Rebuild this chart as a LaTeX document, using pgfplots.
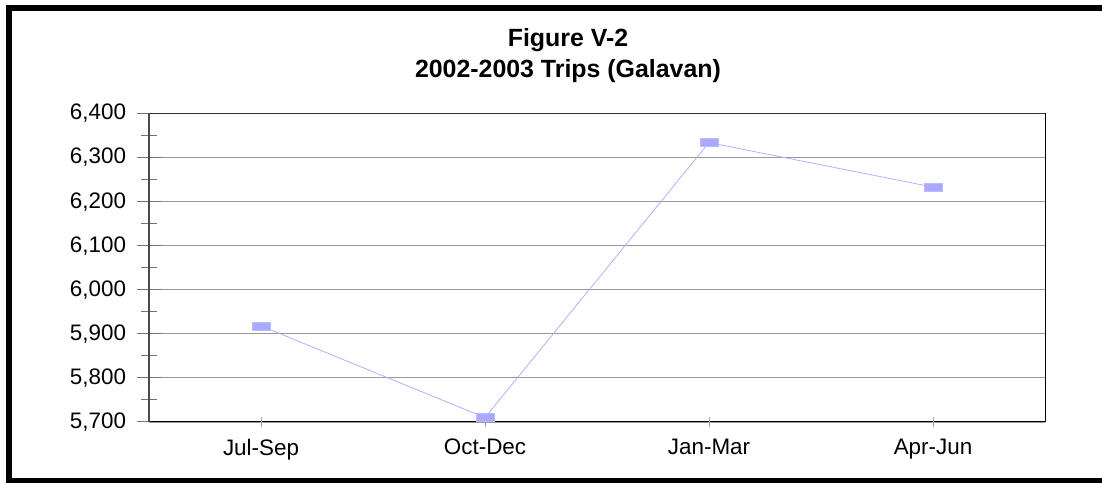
\documentclass[border=0pt]{standalone}
\usepackage{pgfplots}
\pgfplotsset{compat=1.18}
\usepackage{fontspec}
\setmainfont{Liberation Sans}
\definecolor{serie}{HTML}{A9A9FF}
\definecolor{serieline}{HTML}{B0B0FF}
\begin{document}
\begin{tikzpicture}[x=1bp,y=1bp]
\useasboundingbox (0,0) rectangle (1102,483);
\draw[line width=6bp,black] (1120,2) -- (9,2) -- (9,475) -- (1120,475);
\node[anchor=base,font=\bfseries\fontsize{25}{30}\selectfont] at (568,436) {Figure V-2};
\node[anchor=base,font=\bfseries\fontsize{25}{30}\selectfont] at (568,405) {2002-2003 Trips (Galavan)};
\begin{axis}[
  at={(149bp,61bp)}, anchor=south west,
  scale only axis, width=896bp, height=308.5bp,
  xmin=-0.5, xmax=3.5, ymin=5700, ymax=6400,
  xtick={0,1,2,3}, xticklabels={Jul-Sep,Oct-Dec,Jan-Mar,Apr-Jun},
  ytick={5700,5800,5900,6000,6100,6200,6300,6400},
  minor ytick={5750,5850,5950,6050,6150,6250,6350},
  ytick pos=left,
  ymajorgrids, major grid style={gray!80, line width=0.9bp},
  tick align=center,
  major tick length=25bp, minor tick length=16bp,
  x tick style={draw=none},
  y tick style={gray!90!black, line width=1bp},
  axis line style={black, line width=1bp},
  tick label style={font=\fontsize{22.5}{27}\selectfont},
  yticklabel style={xshift=-7bp},
  xticklabel style={yshift=-1bp},
  /pgf/number format/.cd, 1000 sep={,}, assume math mode=true,
  /pgfplots/.cd,
  clip=false,
]
\addplot[serieline, line width=0.8bp, mark=square*, mark size=4bp,
  mark options={xscale=2.25, fill=serie, draw=serie!80, solid}]
  coordinates {(0,5918) (1,5710) (2,6334) (3,6233)};
\draw[gray!60!black, line width=1.2bp] (rel axis cs:0,0) -- (rel axis cs:0,1);
\draw[gray!40!black, line width=1.2bp] (rel axis cs:0,1) -- (rel axis cs:1,1);
\pgfplotsinvokeforeach{0,1,2,3}{
  \draw[gray!70, line width=0.6bp] ([yshift=-5bp]axis cs:#1,5700) -- ([yshift=5bp]axis cs:#1,5700);
}
\end{axis}
\end{tikzpicture}
\end{document}
